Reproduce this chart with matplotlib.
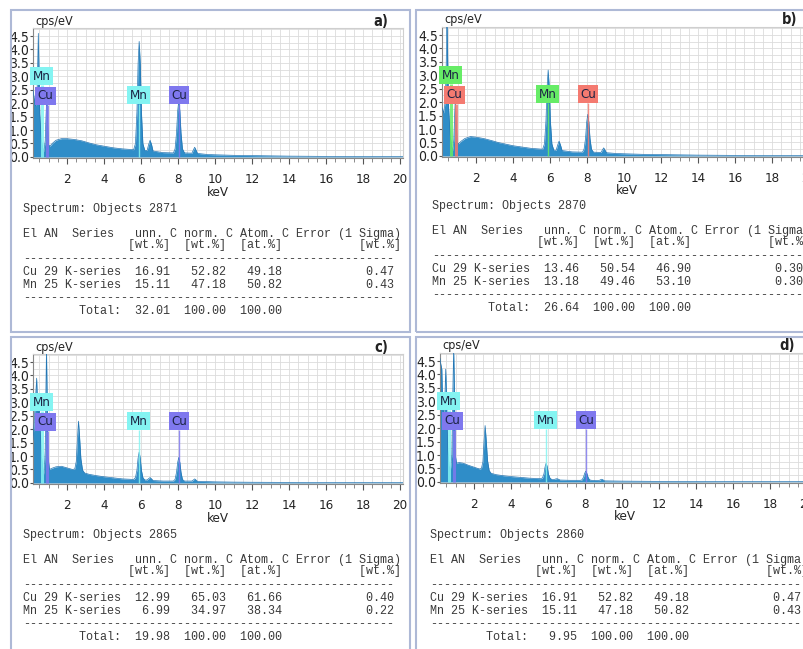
import matplotlib
matplotlib.use("Agg")
import matplotlib.pyplot as plt
from matplotlib.patches import Rectangle
from matplotlib.ticker import MultipleLocator
import numpy as np

# EDS spectra: (keV, cps/eV)
spec_a = [(0.16, 2.5), (0.22, 2.2), (0.3, 1.9), (0.38, 2.4), (0.42, 3.6), (0.45, 4.6), (0.48, 3.4),
          (0.53, 1.6), (0.6, 0.7), (0.68, 0.35), (0.75, 0.2), (0.82, 0.6), (0.87, 1.6), (0.91, 2.3),
          (0.95, 1.3), (1.0, 0.45), (1.08, 0.4), (1.2, 0.5), (1.4, 0.62), (1.7, 0.68), (2.0, 0.68),
          (2.4, 0.65), (2.8, 0.6), (3.2, 0.52), (3.6, 0.45), (4.0, 0.4), (4.5, 0.34), (5.0, 0.3),
          (5.6, 0.27), (5.7, 0.5), (5.78, 1.7), (5.84, 3.45), (5.9, 4.3), (5.96, 3.45), (6.02, 1.7),
          (6.1, 0.5), (6.2, 0.25), (6.33, 0.24), (6.41, 0.46), (6.49, 0.62), (6.57, 0.46),
          (6.65, 0.22), (7.2, 0.16), (7.75, 0.15), (7.84, 0.3), (7.92, 0.9), (7.98, 1.7), (8.04, 2.1),
          (8.1, 1.7), (8.16, 0.9), (8.24, 0.3), (8.35, 0.15), (8.75, 0.14), (8.83, 0.26), (8.9, 0.36),
          (8.97, 0.26), (9.05, 0.13), (9.6, 0.09), (10, 0.08), (11, 0.06), (12, 0.05), (13, 0.04),
          (14, 0.03), (15, 0.025), (16, 0.02), (18, 0.015), (20.16, 0.01)]
spec_b = [(0.16, 1.8), (0.25, 1.6), (0.33, 2.0), (0.38, 3.0), (0.42, 4.8), (0.44, 5.0), (0.47, 3.5),
          (0.52, 1.8), (0.6, 0.8), (0.68, 0.35), (0.75, 0.2), (0.8, 0.6), (0.85, 1.6), (0.88, 2.1),
          (0.92, 1.4), (0.98, 0.5), (1.05, 0.45), (1.2, 0.55), (1.4, 0.65), (1.7, 0.72), (2.0, 0.7),
          (2.4, 0.65), (2.8, 0.58), (3.2, 0.5), (3.6, 0.44), (4.0, 0.38), (4.5, 0.33), (5.0, 0.28),
          (5.6, 0.25), (5.7, 0.45), (5.78, 1.3), (5.84, 2.55), (5.9, 3.2), (5.96, 2.55), (6.02, 1.3),
          (6.1, 0.45), (6.2, 0.22), (6.33, 0.21), (6.41, 0.4), (6.49, 0.55), (6.57, 0.4),
          (6.65, 0.2), (7.2, 0.15), (7.75, 0.14), (7.84, 0.25), (7.92, 0.65), (7.98, 1.25), (8.04, 1.55),
          (8.1, 1.25), (8.16, 0.65), (8.24, 0.25), (8.35, 0.14), (8.75, 0.13), (8.83, 0.22), (8.9, 0.3),
          (8.97, 0.22), (9.05, 0.12), (9.6, 0.09), (10, 0.08), (11, 0.06), (12, 0.05), (13, 0.04),
          (14, 0.03), (15, 0.025), (16, 0.02), (18, 0.015), (20.16, 0.01)]
spec_c = [(0.16, 1.6), (0.22, 2.2), (0.3, 3.2), (0.36, 3.9), (0.4, 3.0), (0.45, 2.4), (0.5, 3.0),
          (0.55, 2.0), (0.62, 1.0), (0.7, 0.5), (0.76, 0.3), (0.82, 1.2), (0.86, 3.5), (0.89, 5.0),
          (0.92, 3.5), (0.97, 1.0), (1.05, 0.5), (1.2, 0.55), (1.4, 0.6), (1.7, 0.62), (2.0, 0.56),
          (2.3, 0.5), (2.42, 0.52), (2.5, 0.8), (2.56, 1.6), (2.62, 2.3), (2.68, 1.7), (2.75, 0.9),
          (2.84, 0.48), (2.95, 0.37), (3.2, 0.32), (3.6, 0.27), (4.0, 0.23), (4.5, 0.19),
          (5.0, 0.15), (5.6, 0.13), (5.7, 0.2), (5.78, 0.48), (5.84, 0.92), (5.9, 1.15), (5.96, 0.92),
          (6.02, 0.48), (6.1, 0.2), (6.2, 0.11), (6.33, 0.11), (6.41, 0.16), (6.49, 0.2), (6.57, 0.15),
          (6.65, 0.09), (7.2, 0.07), (7.75, 0.07), (7.84, 0.13), (7.92, 0.4), (7.98, 0.76), (8.04, 0.95),
          (8.1, 0.76), (8.16, 0.4), (8.24, 0.13), (8.35, 0.07), (8.75, 0.07), (8.83, 0.11), (8.9, 0.15),
          (8.97, 0.11), (9.05, 0.06), (10, 0.04), (11, 0.03), (12, 0.025), (14, 0.02), (16, 0.012),
          (18, 0.01), (20.16, 0.01)]
spec_d = [(0.16, 4.6), (0.2, 4.4), (0.26, 4.2), (0.3, 3.0), (0.36, 2.4), (0.42, 3.0), (0.47, 4.2),
          (0.52, 3.0), (0.58, 1.2), (0.65, 0.6), (0.72, 0.4), (0.8, 1.0), (0.86, 3.5), (0.9, 5.0),
          (0.94, 3.5), (0.99, 1.0), (1.05, 0.7), (1.2, 0.72), (1.4, 0.7), (1.7, 0.62), (2.0, 0.55),
          (2.3, 0.48), (2.4, 0.5), (2.48, 0.75), (2.54, 1.5), (2.6, 2.1), (2.66, 1.55), (2.73, 0.8),
          (2.82, 0.42), (2.93, 0.32), (3.2, 0.27), (3.6, 0.23), (4.0, 0.2), (4.5, 0.17),
          (5.0, 0.14), (5.6, 0.12), (5.7, 0.15), (5.78, 0.3), (5.84, 0.56), (5.9, 0.7), (5.96, 0.56),
          (6.02, 0.3), (6.1, 0.15), (6.2, 0.09), (6.33, 0.09), (6.41, 0.11), (6.49, 0.12), (6.57, 0.1),
          (6.65, 0.07), (7.2, 0.06), (7.75, 0.06), (7.84, 0.08), (7.92, 0.18), (7.98, 0.32), (8.04, 0.4),
          (8.1, 0.32), (8.16, 0.18), (8.24, 0.08), (8.35, 0.06), (8.75, 0.05), (8.83, 0.08), (8.9, 0.1),
          (8.97, 0.08), (9.05, 0.04), (10, 0.03), (11, 0.025), (12, 0.02), (14, 0.015), (16, 0.01),
          (18, 0.01), (20.16, 0.01)]
spectra = [spec_a, spec_b, spec_c, spec_d]
panel_tags = ["a)", "b)", "c)", "d)"]

# element markers: name, line energy, label position (keV, cps)
markers = [("Mn", 0.64, 0.62, 3.0), ("Cu", 0.93, 0.84, 2.28),
           ("Mn", 5.90, 5.87, 2.3), ("Cu", 8.04, 8.05, 2.3)]
mn_colors = ["#84f4f2", "#66ec66", "#84f4f2", "#84f4f2"]
cu_colors = ["#7f78ee", "#f47a70", "#7f78ee", "#7f78ee"]

# quantification tables
spectrum_ids = [2871, 2870, 2865, 2860]
cu_unn = [16.91, 13.46, 12.99, 16.91]
cu_norm = [52.82, 50.54, 65.03, 52.82]
cu_atom = [49.18, 46.90, 61.66, 49.18]
cu_err = [0.47, 0.30, 0.40, 0.47]
mn_unn = [15.11, 13.18, 6.99, 15.11]
mn_norm = [47.18, 49.46, 34.97, 47.18]
mn_atom = [50.82, 53.10, 38.34, 50.82]
mn_err = [0.43, 0.30, 0.22, 0.43]
totals = [32.01, 26.64, 19.98, 9.95]

W, H = 804, 649
fig = plt.figure(figsize=(W / 100, H / 100), dpi=100)
fig.set_facecolor("white")

def fx(px):
    return px / W

def fy(py):
    return 1 - py / H

cond = dict(family="DejaVu Sans", stretch="condensed")
mono = dict(family="Liberation Mono", size=8.5, color="#3a3a3a")

# offsets of each panel (plot dx, dy, table dy)
offsets = [(0, 0, 0), (409, -1, -3), (0, 326, 326), (407, 325, 326)]
borders = [(11, 10, 399, 322), (416, 10, 420, 322), (11, 337, 399, 330), (416, 337, 420, 330)]

for k in range(4):
    dx, dy, tdy = offsets[k]
    bx, by, bw, bh = borders[k]
    fig.add_artist(Rectangle((fx(bx), fy(by + bh)), bw / W, bh / H, transform=fig.transFigure,
                             fill=False, ec="#aeb9d6", lw=1.5))

    ax = fig.add_axes([fx(33 + dx), fy(158 + dy), 370 / W, 130 / H])
    e = np.array([p[0] for p in spectra[k]])
    c = np.array([p[1] for p in spectra[k]])
    ax.fill_between(e, 0, c, color="#2f8dc8", lw=0, zorder=2)
    ax.plot(e, c, color="#2476b4", lw=0.5, zorder=3)

    for name, en, lx, ly in markers:
        col = mn_colors[k] if name == "Mn" else cu_colors[k]
        lw = 2.2 if en < 1 else 1.0
        ax.vlines(en, 0, ly - 0.33, color=col, lw=lw, alpha=0.85, zorder=4)
        ax.text(lx, ly, name, ha="center", va="center", fontsize=9.5, color="#1c2444", zorder=5,
                bbox=dict(boxstyle="square,pad=0.18", fc=col, ec="none"), **cond)

    ax.set_xlim(0.162, 20.16)
    ax.set_ylim(-0.04, 4.8)
    ax.set_xticks(np.arange(2, 21, 2))
    ax.set_yticks(np.arange(0, 4.51, 0.5))
    ax.set_yticklabels([f"{v:.1f}" for v in np.arange(0, 4.51, 0.5)])
    ax.xaxis.set_minor_locator(MultipleLocator(0.5))
    ax.yaxis.set_minor_locator(MultipleLocator(0.25))
    ax.grid(which="both", color="#dcdcdc", lw=0.6, zorder=0)
    ax.set_axisbelow(True)
    ax.tick_params(axis="x", which="major", length=4, pad=7, labelsize=9.5, colors="#555555",
                   labelcolor="#222222")
    ax.tick_params(axis="x", which="minor", length=3, colors="#777777")
    ax.tick_params(axis="y", which="major", length=2, pad=1, labelsize=10, colors="#555555",
                   labelcolor="#222222")
    ax.tick_params(axis="y", which="minor", length=0)
    for lab in ax.get_xticklabels() + ax.get_yticklabels():
        lab.set_fontstretch("condensed")
    for s in ["top", "right"]:
        ax.spines[s].set_color("#cfcfcf")
    for s in ["left", "bottom"]:
        ax.spines[s].set_color("#888888")

    fig.text(fx(35 + dx), fy(21 + dy), "cps/eV", ha="left", va="center", fontsize=9,
             color="#222222", **cond)
    fig.text(fx(388 + dx), fy(21 + dy), panel_tags[k], ha="right", va="center", fontsize=10.5,
             weight="bold", color="#222222", **cond)
    fig.text(fx(218 + dx), fy(192 + dy), "keV", ha="center", va="center", fontsize=9.5,
             color="#222222", **cond)

    # table
    tx = 23 + dx
    lines = [
        (209, f"Spectrum: Objects {spectrum_ids[k]}"),
        (234, "El AN  Series   unn. C norm. C Atom. C Error (1 Sigma)"),
        (245, "               [wt.%]  [wt.%]  [at.%]           [wt.%]"),
        (259, "-" * 53),
        (272, f"Cu 29 K-series {cu_unn[k]:6.2f}{cu_norm[k]:8.2f}{cu_atom[k]:8.2f}{cu_err[k]:16.2f}"),
        (285, f"Mn 25 K-series {mn_unn[k]:6.2f}{mn_norm[k]:8.2f}{mn_atom[k]:8.2f}{mn_err[k]:16.2f}"),
        (298, "-" * 53),
        (311, f"        Total: {totals[k]:6.2f}{100:8.2f}{100:8.2f}"),
    ]
    for ly, txt in lines:
        fig.text(fx(tx), fy(ly + tdy), txt, ha="left", va="center", **mono)

fig.savefig("out.png", dpi=100)
